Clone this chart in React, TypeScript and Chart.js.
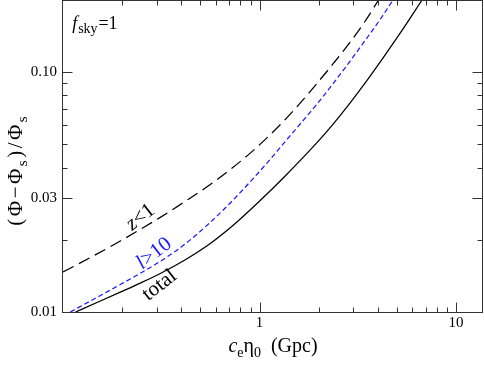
import React, { useEffect, useRef } from 'react';
import { Chart, registerables } from 'chart.js';

Chart.register(...registerables);

// ---- data ----
// z<1 (long dashed)
const zX = [0.1, 0.1378, 0.1957, 0.2474, 0.3127, 0.4192, 0.5615, 0.7097, 0.897, 1.094, 1.32, 1.61, 1.965, 2.37, 2.892, 3.407, 4.036];
const zY = [0.01468, 0.01687, 0.01976, 0.02211, 0.0248, 0.02895, 0.03398, 0.03925, 0.04597, 0.05335, 0.0622, 0.07427, 0.09, 0.1085, 0.1334, 0.1608, 0.2];

// l>10 (blue short dashed)
const lX = [0.109, 0.1462, 0.1957, 0.2474, 0.3127, 0.4192, 0.5615, 0.7097, 0.9181, 1.094, 1.32, 1.61, 1.965, 2.37, 2.892, 3.487, 4.108, 4.783];
const lY = [0.01, 0.01141, 0.01302, 0.01451, 0.01627, 0.01924, 0.02365, 0.02849, 0.03565, 0.04188, 0.05022, 0.06079, 0.07377, 0.08966, 0.1113, 0.1374, 0.1658, 0.2];

// total (solid)
const tX = [0.1158, 0.1549, 0.1957, 0.2474, 0.3127, 0.4192, 0.5615, 0.7523, 1.008, 1.351, 1.965, 2.37, 2.892, 3.487, 4.255, 5.44, 6.718];
const tY = [0.01, 0.01111, 0.0121, 0.0132, 0.01448, 0.01652, 0.01931, 0.0234, 0.02917, 0.03691, 0.05095, 0.06079, 0.07452, 0.09139, 0.1148, 0.1537, 0.2];

const xTickValues = [1, 10];
const xTickLabels = ['1', '10'];
const xMinorTicks = [0.2, 0.3, 0.4, 0.5, 0.6, 0.7, 0.8, 0.9, 2, 3, 4, 5, 6, 7, 8, 9];

const yTickValues = [0.01, 0.03, 0.1];
const yTickLabels = ['0.01', '0.03', '0.10'];
const yMinorTicks = [0.02, 0.04, 0.05, 0.06, 0.07, 0.08, 0.09, 0.2];

const X_MIN = 0.1;
const X_MAX = 13.72;
const Y_MIN = 0.01;
const Y_MAX = 0.2;

// annotation anchors in data coordinates
const labelZ = { x: 0.2474, y: 0.0249 };
const labelL = { x: 0.29, y: 0.0176 };
const labelT = { x: 0.309, y: 0.01296 };
const labelF = { x: 0.1116, y: 0.151 };

const SERIF = '"Liberation Serif", "Times New Roman", serif';

type Run = { t: string; size: number; italic?: boolean; dy?: number };

function fontOf(r: Run) {
  return `${r.italic ? 'italic ' : ''}${r.size}px ${SERIF}`;
}

function drawRuns(
  ctx: CanvasRenderingContext2D,
  runs: Run[],
  x: number,
  y: number,
  angle: number,
  color: string,
  align: 'center' | 'left' = 'center',
  gap = 0,
  vy = 0
) {
  ctx.save();
  ctx.translate(x, y);
  ctx.rotate(angle);
  ctx.fillStyle = color;
  ctx.textBaseline = 'alphabetic';
  ctx.textAlign = 'left';
  const widths = runs.map((r) => {
    ctx.font = fontOf(r);
    return ctx.measureText(r.t).width;
  });
  const total = widths.reduce((a, b) => a + b, 0) + gap * (runs.length - 1);
  let cx = align === 'center' ? -total / 2 : 0;
  runs.forEach((r, i) => {
    ctx.font = fontOf(r);
    ctx.fillText(r.t, cx, (r.dy || 0) + vy);
    cx += widths[i] + gap;
  });
  ctx.restore();
}

const framePlugin = {
  id: 'frameAndText',
  afterDraw(chart: any) {
    const ctx: CanvasRenderingContext2D = chart.ctx;
    const { left, right, top, bottom } = chart.chartArea;
    const xs = chart.scales.x;
    const ys = chart.scales.y;
    const L = Math.round(left) - 0.5;
    const R = Math.round(right) - 0.5;
    const T = Math.round(top) + 0.5;
    const B = Math.round(bottom) + 0.5;
    ctx.save();
    ctx.strokeStyle = '#333';
    ctx.lineWidth = 1;
    ctx.strokeRect(L, T, R - L, B - T);
    const MAJ = 10;
    const MIN = 5;
    ctx.beginPath();
    const xt = (v: number, len: number) => {
      const p = Math.round(xs.getPixelForValue(v)) + 0.5;
      ctx.moveTo(p, B);
      ctx.lineTo(p, B - len);
      ctx.moveTo(p, T);
      ctx.lineTo(p, T + len);
    };
    const yt = (v: number, len: number) => {
      const p = Math.round(ys.getPixelForValue(v)) + 0.5;
      ctx.moveTo(L, p);
      ctx.lineTo(L + len, p);
      ctx.moveTo(R, p);
      ctx.lineTo(R - len, p);
    };
    xTickValues.forEach((v) => xt(v, MAJ));
    xMinorTicks.forEach((v) => xt(v, MIN));
    yTickValues.forEach((v) => yt(v, MAJ));
    yMinorTicks.forEach((v) => yt(v, MIN));
    ctx.stroke();
    ctx.restore();

    // axis titles
    drawRuns(
      ctx,
      [
        { t: 'c', size: 20, italic: true },
        { t: 'e', size: 14, dy: 5 },
        { t: 'η', size: 20 },
        { t: '0', size: 14, dy: 5 },
        { t: '  (Gpc)', size: 20 },
      ],
      (left + right) / 2,
      352,
      0,
      '#000'
    );
    drawRuns(
      ctx,
      [
        { t: '(', size: 21 },
        { t: 'Φ', size: 21 },
        { t: '−', size: 21 },
        { t: 'Φ', size: 21 },
        { t: 's', size: 15, dy: 5 },
        { t: ')', size: 21 },
        { t: '/', size: 21 },
        { t: 'Φ', size: 21 },
        { t: 's', size: 15, dy: 5 },
      ],
      22,
      171,
      -Math.PI / 2,
      '#000',
      'center',
      2.5
    );

    // f_sky annotation
    drawRuns(
      ctx,
      [
        { t: 'f', size: 18, italic: true },
        { t: 'sky', size: 14, dy: 4 },
        { t: '=1', size: 18 },
      ],
      xs.getPixelForValue(labelF.x),
      ys.getPixelForValue(labelF.y),
      0,
      '#000',
      'left',
      0.8
    );

    const ang = (-38 * Math.PI) / 180;
    drawRuns(
      ctx,
      [
        { t: 'z', size: 21, italic: true },
        { t: '<1', size: 21 },
      ],
      xs.getPixelForValue(labelZ.x),
      ys.getPixelForValue(labelZ.y),
      ang,
      '#000',
      'center',
      0,
      6
    );
    drawRuns(
      ctx,
      [
        { t: 'l', size: 21, italic: true },
        { t: '>10', size: 21 },
      ],
      xs.getPixelForValue(labelL.x),
      ys.getPixelForValue(labelL.y),
      ang,
      '#1a1aff',
      'center',
      0,
      6
    );
    drawRuns(
      ctx,
      [{ t: 'total', size: 21 }],
      xs.getPixelForValue(labelT.x),
      ys.getPixelForValue(labelT.y),
      ang,
      '#000',
      'center',
      0,
      6
    );
  },
};

function zip(xa: number[], ya: number[]) {
  return xa.map((x, i) => ({ x, y: ya[i] }));
}

export default function App() {
  const ref = useRef<HTMLCanvasElement | null>(null);
  useEffect(() => {
    document.body.style.margin = '0';
    const canvas = ref.current;
    if (!canvas) return;
    const tickFont = { family: SERIF, size: 15 };
    const common = {
      pointRadius: 0,
      fill: false,
      cubicInterpolationMode: 'monotone',
      borderWidth: 1.25,
    };
    const chart = new Chart(canvas, {
      type: 'line',
      data: {
        datasets: [
          { label: 'z<1', data: zip(zX, zY), borderColor: '#000', borderDash: [12, 6], ...common },
          { label: 'l>10', data: zip(lX, lY), borderColor: '#1a1aff', borderDash: [5, 3], ...common },
          { label: 'total', data: zip(tX, tY), borderColor: '#000', ...common },
        ],
      },
      options: {
        animation: false,
        responsive: false,
        events: [],
        layout: { padding: { left: 0, right: 1, top: 0, bottom: 0 } },
        plugins: { legend: { display: false }, tooltip: { enabled: false } },
        scales: {
          x: {
            type: 'logarithmic',
            position: 'bottom',
            min: X_MIN,
            max: X_MAX,
            afterBuildTicks: (s: any) => {
              s.ticks = xTickValues.map((v) => ({ value: v }));
            },
            afterFit: (s: any) => {
              s.height = 53;
              s.paddingLeft = 0;
              s.paddingRight = 0;
            },
            ticks: {
              autoSkip: false,
              maxRotation: 0,
              padding: 2,
              color: '#000',
              font: tickFont,
              callback: (_v: any, i: number) => xTickLabels[i],
            },
            grid: { display: false, drawTicks: false },
            border: { display: false },
          },
          y: {
            type: 'logarithmic',
            position: 'left',
            min: Y_MIN,
            max: Y_MAX,
            afterBuildTicks: (s: any) => {
              s.ticks = yTickValues.map((v) => ({ value: v }));
            },
            afterFit: (s: any) => {
              s.width = 63;
              s.paddingTop = 0;
              s.paddingBottom = 0;
            },
            ticks: {
              autoSkip: false,
              padding: 6,
              color: '#000',
              font: tickFont,
              callback: (_v: any, i: number) => yTickLabels[i],
            },
            grid: { display: false, drawTicks: false },
            border: { display: false },
          },
        },
      },
      plugins: [framePlugin],
    } as any);
    return () => chart.destroy();
  }, []);
  return (
    <div style={{ width: 484, height: 365 }}>
      <canvas ref={ref} width={484} height={365} style={{ display: 'block' }} />
    </div>
  );
}
